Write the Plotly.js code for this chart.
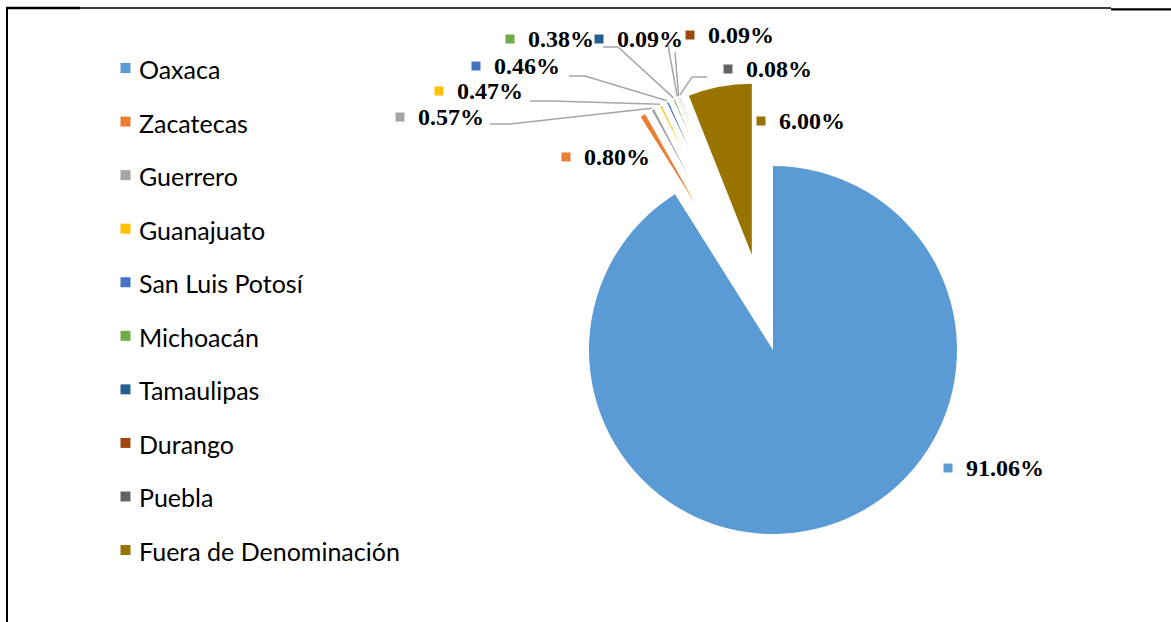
<!DOCTYPE html>
<html>
<head>
<meta charset="utf-8">
<script src="https://cdn.plot.ly/plotly-3.0.1.min.js"></script>
<style>
  html, body { margin: 0; padding: 0; background: #fff; overflow: hidden; }
  #chart { width: 1171px; height: 622px; }
</style>
</head>
<body>
<div id="chart"></div>
<script>
// Share of production by state (%)
const categories = ['Oaxaca', 'Zacatecas', 'Guerrero', 'Guanajuato', 'San Luis Potosí',
                    'Michoacán', 'Tamaulipas', 'Durango', 'Puebla', 'Fuera de Denominación'];
const shares = [91.06, 0.80, 0.57, 0.47, 0.46, 0.38, 0.09, 0.09, 0.08, 6.00];
const sliceColors = ['#5B9BD5', '#ED7D31', '#A5A5A5', '#FFC000', '#4472C4',
                     '#70AD47', '#255E91', '#9E480E', '#636363', '#997300'];

// ---- styling / layout settings ----
const W = 1171, H = 622;
const pieCenter = { x: 773, y: 350 };       // centre of the unexploded pie
const bigExplodedCenter = { x: 770, y: 350 }; // reference point for the large exploded slice
const smallCenter = { x: 780, y: 346 };     // reference point for the thin exploded slices
const baseRadius = 184;                     // radius of the unexploded slice
const outerReach = 268;                     // exploded slices reach this far out
const explodePx = [0, 165, 194, 217, 219, 231, 238, 240, 242, 97];

// label anchor (left edge of text, vertical middle) for each data label
const labelAnchor = [[964, 468], [582, 157], [416, 117], [455, 91], [492, 66],
                     [526, 39], [615, 39], [706, 35], [744, 69], [777, 121]];
// bent leader lines: label-side points, the slice end is computed
const leaderStart = {
  2: [[490, 124], [510, 124]],
  3: [[530, 101], [552, 101]],
  4: [[569, 76], [585, 76]],
  5: [[603, 47], [618, 47]],
  6: [[668, 45]],
  7: [[675, 52]],
  8: [[707, 77], [692, 77]]
};

const legendX = 137, legendTop = 68, legendStep = 53.56;

const px = x => x / W;
const py = y => 1 - y / H;
const last = shares.length - 1;
const centerOf = i => i === 0 ? pieCenter : (i === last ? bigExplodedCenter : smallCenter);

// one pie trace per slice so each exploded slice gets its own radius
const traces = shares.map((v, i) => {
  const c = centerOf(i);
  const reach = explodePx[i] > 0 ? outerReach : baseRadius;
  const pull = explodePx[i] / (reach - explodePx[i]);
  return {
    type: 'pie',
    labels: categories,
    values: shares,
    sort: false,
    direction: 'clockwise',
    rotation: 0,
    marker: {
      colors: sliceColors.map((col, j) => j === i ? col : 'rgba(0,0,0,0)'),
      line: { width: 0 }
    },
    pull: shares.map((_, j) => j === i ? pull : 0),
    domain: {
      x: [px(c.x - reach), px(c.x + reach)],
      y: [py(c.y + reach), py(c.y - reach)]
    },
    textinfo: 'none',
    hoverinfo: 'none',
    showlegend: false
  };
});

// mid angle of every slice, clockwise from 12 o'clock
const total = shares.reduce((a, b) => a + b, 0);
let cum = 0;
const midAngle = shares.map(v => { const a = (cum + v / 2) / total * 2 * Math.PI; cum += v; return a; });
const outerPoint = (i, r) => {
  const c = centerOf(i);
  return [c.x + r * Math.sin(midAngle[i]), c.y - r * Math.cos(midAngle[i])];
};

const shapes = [];
const annotations = [];

// frame
const frameLine = (x0, y0, x1, y1, w) => shapes.push({
  type: 'line', xref: 'paper', yref: 'paper',
  x0: px(x0), y0: py(y0), x1: px(x1), y1: py(y1),
  line: { color: '#000', width: w }
});
frameLine(7, 8, 1111, 8, 1.5);
frameLine(6, 8, 80, 8, 2.5);
frameLine(1111, 9.3, 1171, 9.3, 2.2);
frameLine(7, 7, 7, 622, 2);

// leader lines
Object.keys(leaderStart).forEach(k => {
  const i = +k;
  const pts = leaderStart[k].concat([outerPoint(i, 270)]);
  const d = pts.map((p, n) => (n ? 'L' : 'M') + px(p[0]) + ',' + py(p[1])).join(' ');
  shapes.push({ type: 'path', xref: 'paper', yref: 'paper', path: d,
                line: { color: '#A6A6A6', width: 1.5 } });
});

// data labels with colour keys
const keySquare = (cx, cy, size, col) => shapes.push({
  type: 'rect', xref: 'paper', yref: 'paper',
  x0: px(cx - size / 2), x1: px(cx + size / 2), y0: py(cy + size / 2), y1: py(cy - size / 2),
  fillcolor: col, line: { width: 0 }
});
shares.forEach((v, i) => {
  const [lx, ly] = labelAnchor[i];
  keySquare(lx - 16, ly, 9, sliceColors[i]);
  annotations.push({
    xref: 'paper', yref: 'paper', x: px(lx), y: py(ly),
    xanchor: 'left', yanchor: 'middle', showarrow: false,
    text: v.toFixed(2) + '%',
    font: { family: 'Liberation Serif, Times New Roman, serif', size: 24, color: '#000', weight: 'bold' }
  });
});

// legend
categories.forEach((name, i) => {
  const y = legendTop + legendStep * i;
  keySquare(125.5, y, 10, sliceColors[i]);
  annotations.push({
    xref: 'paper', yref: 'paper', x: px(legendX), y: py(y + 1),
    xanchor: 'left', yanchor: 'middle', showarrow: false,
    text: name,
    font: { family: 'Lato, Carlito, Calibri, sans-serif', size: 25, color: '#000' }
  });
});

const layout = {
  width: W, height: H,
  margin: { l: 0, r: 0, t: 0, b: 0 },
  paper_bgcolor: '#fff',
  showlegend: false,
  shapes: shapes,
  annotations: annotations
};

Plotly.newPlot('chart', traces, layout, { displayModeBar: false, staticPlot: true });
</script>
</body>
</html>
